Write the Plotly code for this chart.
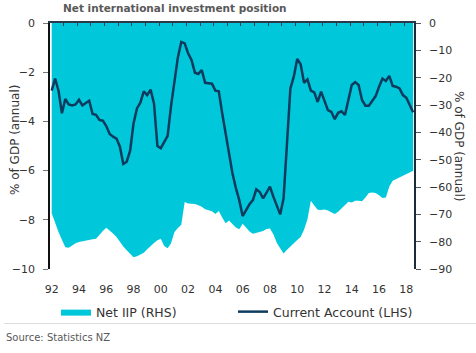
import plotly.graph_objects as go

# Quarterly data, 1992Q1 .. 2018Q3
start_year = 1992
current_account = [
    -2.75, -2.26, -2.75, -3.67, -3.09, -3.31, -3.35, -3.31, -3.12, -3.35,
    -3.25, -3.16, -3.70, -3.73, -3.94, -3.97, -4.19, -4.51, -4.62, -4.70,
    -5.03, -5.73, -5.64, -5.19, -4.08, -3.47, -3.24, -2.78, -2.93, -2.71,
    -3.27, -5.00, -5.09, -4.86, -4.59, -3.37, -2.32, -1.40, -0.77, -0.83,
    -1.23, -1.50, -2.02, -2.07, -1.91, -2.43, -2.45, -2.47, -2.75, -2.78,
    -3.67, -4.48, -5.16, -6.11, -6.70, -7.20, -7.85, -7.58, -7.37, -7.20,
    -6.76, -6.87, -7.13, -6.90, -6.65, -7.06, -7.40, -7.78, -7.13, -4.89,
    -2.66, -2.18, -1.46, -1.68, -2.43, -2.29, -2.75, -2.82, -3.21, -2.79,
    -3.13, -3.54, -3.61, -3.91, -3.65, -3.59, -3.74, -3.13, -2.52, -2.40,
    -2.52, -3.13, -3.36, -3.36, -3.16, -2.97, -2.59, -2.26, -2.36, -2.15,
    -2.56, -2.59, -2.66, -2.93, -3.04, -3.33, -3.63,
]
net_iip = [
    -69.6, -73.5, -76.5, -79.3, -82.0, -82.2, -81.3, -80.6, -80.1, -79.8,
    -79.6, -79.4, -79.1, -78.9, -77.3, -76.1, -74.9, -75.9, -77.0, -78.3,
    -80.2, -81.8, -83.1, -84.3, -85.7, -85.3, -84.8, -84.1, -82.8, -81.5,
    -80.5, -79.5, -78.9, -81.6, -82.4, -80.6, -76.5, -75.0, -73.8, -65.5,
    -66.0, -66.1, -66.2, -66.7, -67.2, -68.1, -68.6, -68.9, -69.9, -68.8,
    -71.2, -73.3, -72.3, -73.5, -74.8, -75.5, -73.4, -74.8, -76.3, -77.1,
    -76.7, -76.5, -76.1, -75.4, -75.2, -77.3, -80.4, -82.4, -84.3, -83.0,
    -81.7, -80.5, -79.4, -78.3, -75.6, -71.8, -65.0, -66.8, -68.3, -68.4,
    -68.2, -68.6, -69.3, -69.9, -69.1, -67.9, -66.6, -65.4, -65.7, -65.0,
    -65.0, -65.2, -63.8, -62.2, -62.0, -62.2, -63.0, -64.0, -63.8, -59.8,
    -57.7, -57.1, -56.7, -56.1, -55.5, -54.7, -54.1,
]
quarters = [start_year + i / 4 for i in range(len(current_account))]

label_years = list(range(1992, 2019, 2))
label_text = [str(y)[2:] for y in label_years]
year_ticks = [y + 0.875 for y in range(1992, 2018)]

title = "Net international investment position"
axis_title = "% of GDP (annual)"
source = "Source: Statistics NZ"
name_iip = "Net IIP (RHS)"
name_ca = "Current Account (LHS)"

FONT = "DejaVu Sans"
FILL = "#00C8DA"
LINE = "#0D3B5E"
TXT = "#333333"

W, H = 476, 353
L, R, T, B = 50, 62, 23, 84
pw, ph = W - L - R, H - T - B


def px_x(p):
    return (p - L) / pw


def px_y(p):
    return (H - B - p) / ph


xr = [1991.875, 2018.562]

fig = go.Figure()
fig.add_trace(go.Scatter(
    x=quarters, y=net_iip, name=name_iip, mode="lines",
    line=dict(width=0, color=FILL), fill="tozeroy", fillcolor=FILL,
    xaxis="x", yaxis="y", hoverinfo="skip", legend="legend",
))
fig.add_trace(go.Scatter(
    x=quarters, y=current_account, name=name_ca, mode="lines",
    line=dict(width=2.5, color=LINE), xaxis="x2", yaxis="y2", legend="legend2",
))

legend_common = dict(
    orientation="h", xref="paper", yref="paper", xanchor="left",
    y=px_y(312), yanchor="middle", font=dict(size=12.5, color=TXT),
    bgcolor="rgba(0,0,0,0)", borderwidth=0,
)

fig.update_layout(
    width=W, height=H, autosize=False,
    margin=dict(l=L, r=R, t=T, b=B, pad=0),
    paper_bgcolor="white", plot_bgcolor="white",
    font=dict(family=FONT, size=11, color=TXT),
    xaxis=dict(
        range=xr, showgrid=False, zeroline=False, showline=False,
        tickmode="array", tickvals=label_years, ticktext=label_text,
        ticks="", ticklabelstandoff=12, tickfont=dict(size=11, color=TXT),
    ),
    xaxis2=dict(
        range=xr, overlaying="x", side="top", anchor="y2", matches="x",
        showgrid=False, zeroline=False, showline=True, linecolor="#2b3a4a", linewidth=1.5,
        tickmode="array", tickvals=year_ticks, ticks="inside", ticklen=3,
        tickcolor="#2b3a4a", showticklabels=False,
    ),
    yaxis=dict(
        range=[-90, 0], side="right", dtick=10, showgrid=False, zeroline=False,
        showline=True, linecolor="#1c2b3a", linewidth=1.5,
        ticks="outside", ticklen=5, tickcolor="#555555", ticklabelstandoff=6,
        tickfont=dict(size=11, color=TXT),
    ),
    yaxis2=dict(
        range=[-10, 0], side="left", overlaying="y", anchor="x", dtick=2,
        showgrid=False, zeroline=False, showline=True, linecolor="#111111", linewidth=1.5,
        ticks="outside", ticklen=5, tickcolor="#777777", ticklabelstandoff=6,
        tickfont=dict(size=11, color=TXT),
    ),
    showlegend=True,
    legend=dict(x=px_x(56), **legend_common),
    legend2=dict(x=px_x(233), **legend_common),
    annotations=[
        dict(text=f"<b>{title}</b>", xref="paper", yref="paper",
             x=px_x(61), y=px_y(8), xanchor="left", yanchor="middle",
             showarrow=False, font=dict(size=10.5, color="#595959")),
        dict(text=axis_title, xref="paper", yref="paper",
             x=px_x(15), y=px_y(140), xanchor="center", yanchor="middle",
             textangle=-90, showarrow=False, font=dict(size=12, color=TXT)),
        dict(text=axis_title, xref="paper", yref="paper",
             x=px_x(459), y=px_y(146), xanchor="center", yanchor="middle",
             textangle=90, showarrow=False, font=dict(size=12, color=TXT)),
        dict(text=source, xref="paper", yref="paper",
             x=px_x(4), y=px_y(337), xanchor="left", yanchor="middle",
             showarrow=False, font=dict(size=10, color="#595959")),
    ],
    shapes=[
        dict(type="line", xref="paper", yref="paper",
             x0=px_x(4), x1=px_x(476), y0=px_y(323.5), y1=px_y(323.5),
             line=dict(color="#DDDDDD", width=1)),
    ],
)

fig.write_html("out.html")
